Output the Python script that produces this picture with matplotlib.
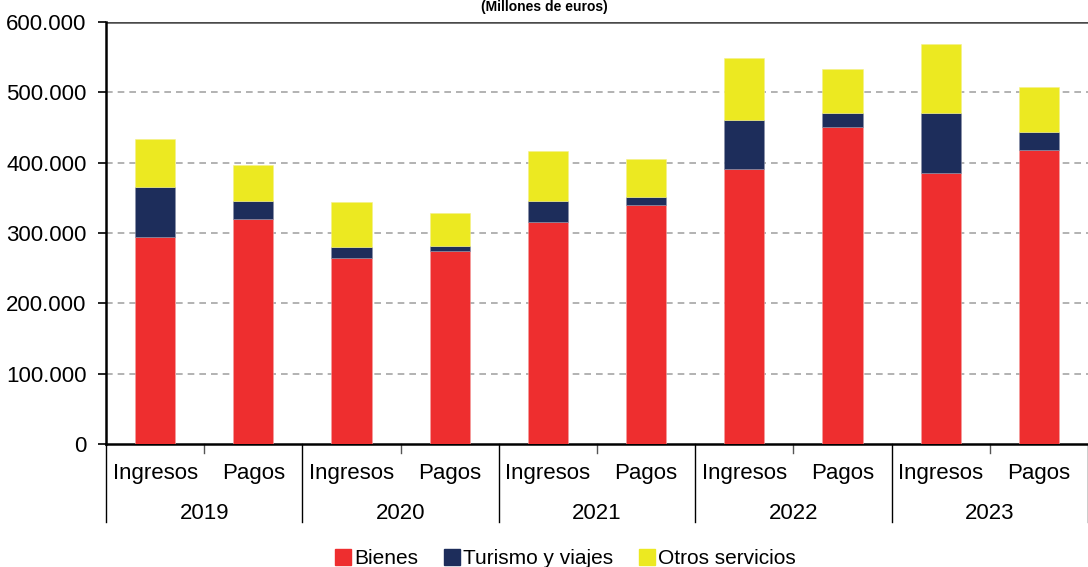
import matplotlib.pyplot as plt
import matplotlib.transforms as mtransforms
from matplotlib.lines import Line2D

plt.rcParams['font.family'] = ['Liberation Sans', 'DejaVu Sans']

# ---- data (millones de euros) ----
years = ["2019", "2020", "2021", "2022", "2023"]
flows = ["Ingresos", "Pagos"]
bienes = [294, 320, 264.5, 274.5, 316, 340, 391, 451, 385, 418]
turismo = [71, 25, 15.5, 7, 29, 11, 70, 20, 85, 25]
otros = [68.5, 52, 63.5, 47, 71.5, 54, 88, 62, 98.5, 65]
bienes = [v * 1000 for v in bienes]
turismo = [v * 1000 for v in turismo]
otros = [v * 1000 for v in otros]

series_names = ["Bienes", "Turismo y viajes", "Otros servicios"]
colors = ["#ee2e2f", "#1d2d5b", "#ece921"]

FS = 16

# ---- figure ----
fig = plt.figure(figsize=(10.88, 5.67), dpi=100)
ax = fig.add_axes([106 / 1088, 123 / 567, 982 / 1088, 422 / 567])

x = [i + 0.5 for i in range(len(bienes))]
w = 0.41
bottom2 = [b + t for b, t in zip(bienes, turismo)]
ax.bar(x, bienes, width=w, color=colors[0], edgecolor="#f4a0a0", linewidth=0.4, zorder=3)
ax.bar(x, turismo, width=w, bottom=bienes, color=colors[1], edgecolor="#8a90a8", linewidth=0.4, zorder=3)
ax.bar(x, otros, width=w, bottom=bottom2, color=colors[2], edgecolor="#f4f08a", linewidth=0.4, zorder=3)

ax.set_xlim(0, 10)
ax.set_ylim(0, 600000)
ax.set_yticks(range(0, 600001, 100000))
ax.set_yticklabels([f"{v:,}".replace(",", ".") for v in range(0, 600001, 100000)], fontsize=FS)
ax.tick_params(axis="y", direction="out", length=6, width=1.2, pad=8, colors="black")
for v in range(100000, 600000, 100000):
    ax.axhline(v, color="#a6a6a6", linestyle=(0, (4, 3)), linewidth=1.2, zorder=1)
ax.axhline(600000, color="#4a4a4a", linewidth=1.8, zorder=2)

for s in ["top", "right"]:
    ax.spines[s].set_visible(False)
ax.spines["left"].set_linewidth(1.8)
ax.spines["bottom"].set_linewidth(1.8)

# category axis: flow labels, year labels, separators
ax.set_xticks(x)
ax.set_xticklabels(flows * len(years), fontsize=FS)
ax.tick_params(axis="x", length=0, pad=14)

trans = mtransforms.blended_transform_factory(ax.transData, ax.transAxes)
for i, yr in enumerate(years):
    ax.text(2 * i + 1, -0.165, yr, transform=trans, ha="center", va="center", fontsize=FS)
    ax.add_line(Line2D([2 * i + 1, 2 * i + 1], [0, -0.022], transform=trans,
                       color="#555555", linewidth=1, clip_on=False))
for i in range(len(years) + 1):
    ax.add_line(Line2D([2 * i, 2 * i], [0, -0.185], transform=trans,
                       color="black", linewidth=1, clip_on=False))

# legend
handles = [Line2D([], [], marker="s", linestyle="none", markersize=11,
                  markerfacecolor=c, markeredgecolor=c) for c in colors]
fig.legend(handles, series_names, loc="center", bbox_to_anchor=(0.52, 0.015), ncol=3,
           frameon=False, fontsize=15, handletextpad=0.15, columnspacing=1.3,
           handlelength=0.7)

fig.text(0.5, 0.988, "(Millones de euros)", ha="center", va="center",
         fontsize=10, fontweight="bold")

fig.savefig("out.png", dpi=100)
